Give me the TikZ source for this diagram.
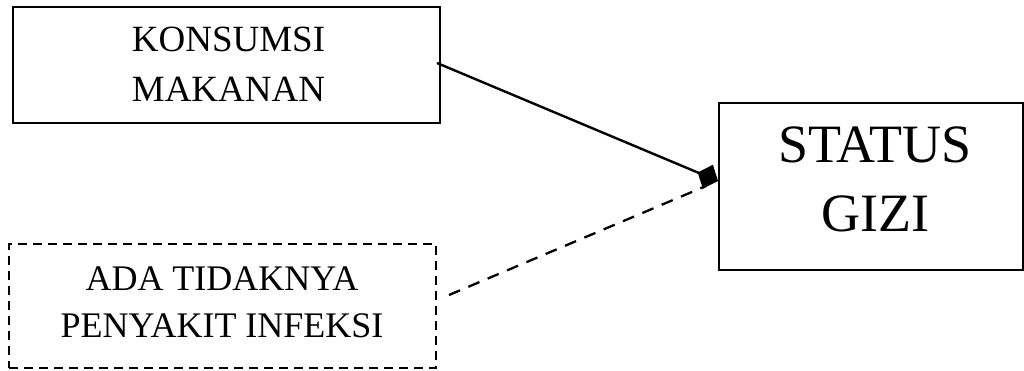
\documentclass[tikz,border=0pt]{standalone}
\usepackage{fontspec}
\setmainfont{Liberation Serif}
\usetikzlibrary{arrows.meta}
\begin{document}
\begin{tikzpicture}[x=1pt,y=-1pt,
  box/.style={draw, line width=1.7pt, inner sep=0pt},
  dbox/.style={draw, line width=1.9pt, inner sep=0pt, dash pattern=on 9pt off 6pt},
  txt/.style={align=center, inner sep=0pt},
  link/.style={line width=2.4pt},
  dlink/.style={line width=2.3pt, dash pattern=on 12pt off 9pt}]
\useasboundingbox (0,0) rectangle (1024,370);
\node[box, minimum width=427pt, minimum height=116pt] (kons) at (226.5,65) {};
\node[txt, font=\fontsize{37}{50}\selectfont] (konst) at (228.5,64.5) {KONSUMSI\\MAKANAN};
\node[dbox, minimum width=427pt, minimum height=124pt] (infe) at (222.5,306) {};
\node[txt, font=\fontsize{36}{47}\selectfont] (infet) at (222,302.5) {ADA TIDAKNYA\\PENYAKIT INFEKSI};
\node[box, minimum width=304pt, minimum height=167pt] (stat) at (871,186.5) {};
\node[txt, font=\fontsize{54}{69}\selectfont] (statt) at (875,179.5) {STATUS\\GIZI};
\coordinate (s1) at (437,63);
\coordinate (tip) at (718,181);
\coordinate (d1) at (449,295);
\coordinate (d2) at (706,186);
\draw[link, -{Diamond[length=22pt,width=26pt]}] (s1) -- (tip);
\draw[dlink] (d1) -- (d2);
\end{tikzpicture}
\end{document}
